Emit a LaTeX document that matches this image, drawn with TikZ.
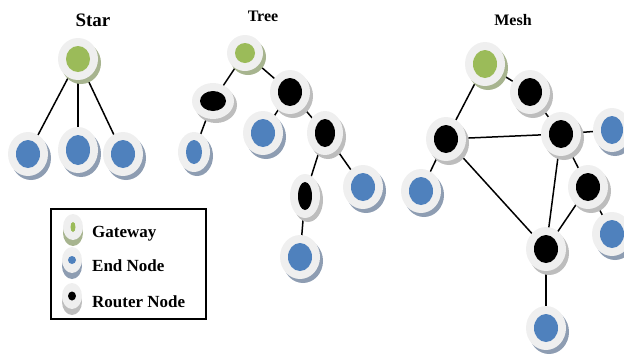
\documentclass[tikz,border=0pt]{standalone}
\usepackage{fontspec}
\setmainfont{Liberation Serif}
\usetikzlibrary{shapes.geometric,calc}
\definecolor{gw}{HTML}{9BBB59}
\definecolor{en}{HTML}{4F81BD}
\definecolor{ring}{HTML}{EFEFEF}
\definecolor{gws}{HTML}{A7B48F}
\definecolor{ens}{HTML}{8E9DB2}
\definecolor{rts}{HTML}{BDBDBD}
\tikzset{
  link/.style={line width=1.5pt, black},
  ttl/.style={font=\bfseries, anchor=base},
  lgd/.style={font=\fontsize{17}{19}\selectfont\bfseries, anchor=base west, inner sep=0pt},
}
% #1 coordinate, #2 rx, #3 ry, #4 fill, #5 shadow colour
\newcommand\dnode[5]{%
  \fill[#5] ($(#1)+(3,4)$) ellipse [x radius={(#2+8)*1pt}, y radius={(#3+8)*1pt}];
  \fill[ring] (#1) ellipse [x radius={(#2+8)*1pt}, y radius={(#3+8)*1pt}];
  \node[ellipse, fill=#4, inner sep=0pt, minimum width={2*#2*1pt}, minimum height={2*#3*1pt}] (#1-n) at (#1) {};
}
\begin{document}
\begin{tikzpicture}[x=1pt,y=-1pt]
\useasboundingbox (0,0) rectangle (624,354);
\clip (0,0) rectangle (624,354);
% titles
\node[ttl, font=\fontsize{19}{21}\selectfont\bfseries] (tstar) at (93,26) {Star};
\node[ttl, font=\fontsize{16}{18}\selectfont\bfseries] (ttree) at (263,21) {Tree};
\node[ttl, font=\fontsize{16}{18}\selectfont\bfseries] (tmesh) at (513,25) {Mesh};
% ---- Star ----
\coordinate (sg) at (78,59);
\coordinate (s1) at (28,154);
\coordinate (s2) at (78,150);
\coordinate (s3) at (123,154);
\draw[link] (sg) -- (s1);
\draw[link] (sg) -- (s2);
\draw[link] (sg) -- (s3);
\dnode{sg}{12}{13}{gw}{gws}
\dnode{s1}{12}{14}{en}{ens}
\dnode{s2}{12}{15}{en}{ens}
\dnode{s3}{12}{14}{en}{ens}
% ---- Tree ----
\coordinate (tg) at (245,53);
\coordinate (ta) at (213,101);
\coordinate (tb) at (290,92);
\coordinate (te1) at (194,152);
\coordinate (te2) at (263,133);
\coordinate (tc) at (325,133);
\coordinate (te3) at (363,187);
\coordinate (td) at (305,196);
\coordinate (te4) at (300,257);
\draw[link] (tg) -- (ta);
\draw[link] (tg) -- (tb);
\draw[link] (ta) -- (te1);
\draw[link] (tb) -- (te2);
\draw[link] (tb) -- (tc);
\draw[link] (tc) -- (td);
\draw[link] (tc) -- (te3);
\draw[link] (td) -- (te4);
\dnode{tg}{10}{10}{gw}{gws}
\dnode{ta}{13}{10}{black}{rts}
\dnode{tb}{12}{14}{black}{rts}
\dnode{te1}{8}{12}{en}{ens}
\dnode{te2}{12}{14}{en}{ens}
\dnode{tc}{10}{14}{black}{rts}
\dnode{te3}{12}{14}{en}{ens}
\dnode{td}{7}{14}{black}{rts}
\dnode{te4}{12}{14}{en}{ens}
% ---- Mesh ----
\coordinate (mg) at (485,64);
\coordinate (m1) at (530,92);
\coordinate (m2) at (446,139);
\coordinate (m3) at (561,134);
\coordinate (me1) at (612,130);
\coordinate (m4) at (588,187);
\coordinate (me2) at (421,191);
\coordinate (me3) at (612,234);
\coordinate (m5) at (546,249);
\coordinate (me4) at (546,328);
\draw[link] (mg) -- (m2);
\draw[link] (mg) -- (m1);
\draw[link] (m1) -- (m3);
\draw[link] (m2) -- (m3);
\draw[link] (m3) -- (me1);
\draw[link] (m2) -- (me2);
\draw[link] (m2) -- (m5);
\draw[link] (m3) -- (m5);
\draw[link] (m3) -- (m4);
\draw[link] (m4) -- (m5);
\draw[link] (m4) -- (me3);
\draw[link] (m5) -- (me4);
\dnode{mg}{12}{14}{gw}{gws}
\dnode{m1}{12}{14}{black}{rts}
\dnode{m2}{12}{14}{black}{rts}
\dnode{m3}{12}{14}{black}{rts}
\dnode{me1}{11}{14}{en}{ens}
\dnode{m4}{12}{14}{black}{rts}
\dnode{me2}{12}{14}{en}{ens}
\dnode{me3}{12}{14}{en}{ens}
\dnode{m5}{12}{14}{black}{rts}
\dnode{me4}{12}{14}{en}{ens}
% ---- Legend ----
\draw[line width=1.6pt] (51,209) rectangle (206,319);
\begin{scope}
\clip (55,212) rectangle (83,316);
\coordinate (lg) at (73,227);
\coordinate (le) at (72,260);
\coordinate (lr) at (72,296);
\fill[gws] ($(lg)+(0,6)$) ellipse [x radius=10pt, y radius=13pt];
\fill[ring] (lg) ellipse [x radius=10pt, y radius=13pt];
\node[ellipse, fill=gw, inner sep=0pt, minimum width=5pt, minimum height=10pt] (lg-n) at (lg) {};
\fill[ens] ($(le)+(0,6)$) ellipse [x radius=10pt, y radius=13pt];
\fill[ring] (le) ellipse [x radius=10pt, y radius=13pt];
\node[ellipse, fill=en, inner sep=0pt, minimum width=8pt, minimum height=8pt] (le-n) at (le) {};
\fill[rts] ($(lr)+(0,6)$) ellipse [x radius=10pt, y radius=13pt];
\fill[ring] (lr) ellipse [x radius=10pt, y radius=13pt];
\node[ellipse, fill=black, inner sep=0pt, minimum width=8pt, minimum height=9pt] (lr-n) at (lr) {};
\end{scope}
\node[lgd] (lgt) at (92,237) {Gateway};
\node[lgd] (let) at (92,271) {End Node};
\node[lgd] (lrt) at (92,307) {Router Node};
\end{tikzpicture}
\end{document}
